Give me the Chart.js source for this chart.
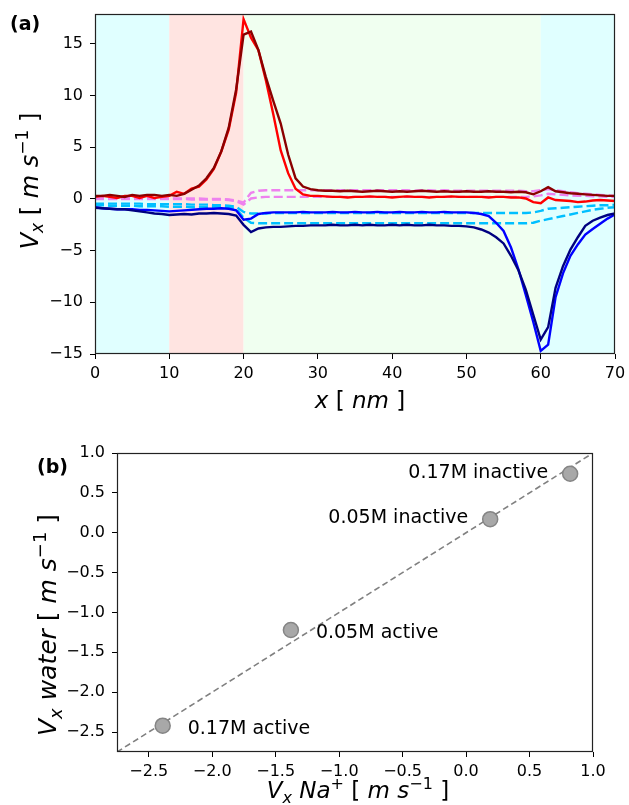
<!DOCTYPE html>
<html><head><meta charset="utf-8">
<script src="https://cdn.jsdelivr.net/npm/chart.js@4/dist/chart.umd.min.js"></script>
<style>
html,body{margin:0;padding:0;background:#fff;}
#wrap{position:relative;width:629px;height:805px;overflow:hidden;}
.box{position:absolute;left:0;width:629px;}
</style></head><body>
<div id="wrap">
<div class="box" style="top:0;height:420px"><canvas id="c1"></canvas></div>
<div class="box" style="top:420px;height:385px"><canvas id="c2"></canvas></div>
</div>
<script>
// ---------------- DATA (panel a) ----------------
const xNm = [0,1,2,3,4,5,6,7,8,9,10,11,12,13,14,15,16,17,18,19,20,21,22,23,24,25,26,27,28,29,30,31,32,33,34,35,36,37,38,39,40,41,42,43,44,45,46,47,48,49,50,51,52,53,54,55,56,57,58,59,60,61,62,63,64,65,66,67,68,69,70];
const seriesDarkRed = [0.3,0.3,0.4,0.3,0.2,0.4,0.3,0.4,0.4,0.3,0.4,
  0.3,0.5,0.9,1.3,2.0,3.0,4.6,6.9,10.6,15.9,
  16.2,14.4,11.8,9.5,7.3,4.3,2.0,1.2,0.95,0.85,
  0.8,0.8,0.75,0.8,0.75,0.7,0.75,0.8,0.75,0.7,
  0.75,0.7,0.75,0.8,0.75,0.7,0.75,0.7,0.7,0.75,
  0.7,0.7,0.75,0.7,0.7,0.65,0.7,0.65,0.45,0.75,
  1.15,0.75,0.65,0.55,0.5,0.45,0.4,0.35,0.3,0.3];
const seriesRed = [0.2,0.3,0.2,0.1,0.3,0.3,0.1,0.3,0.1,0.2,0.3,
  0.7,0.5,1.0,1.2,1.9,2.9,4.6,6.7,10.3,17.4,
  15.6,14.4,11.5,8.2,4.7,2.5,1.0,0.45,0.3,0.3,
  0.25,0.2,0.2,0.15,0.2,0.2,0.25,0.2,0.2,0.15,
  0.2,0.25,0.2,0.2,0.15,0.2,0.2,0.25,0.2,0.2,
  0.2,0.2,0.15,0.2,0.2,0.15,0.15,0.05,-0.3,-0.4,
  0.15,-0.1,-0.15,-0.2,-0.3,-0.25,-0.15,-0.1,-0.15,-0.2];
const seriesVioletHigh = [0.1,0.1,0.05,0.1,0.1,0.05,0.1,0.1,0.05,0.1,0.05,
  0.05,0.05,0.05,0.05,0.0,0.0,0.0,-0.05,-0.15,-0.35,
  0.6,0.8,0.85,0.85,0.85,0.85,0.85,0.85,0.85,0.85,
  0.85,0.85,0.85,0.85,0.85,0.85,0.85,0.85,0.85,0.85,
  0.85,0.85,0.8,0.85,0.85,0.8,0.85,0.8,0.8,0.8,
  0.8,0.8,0.8,0.8,0.8,0.8,0.8,0.75,0.75,0.85,
  0.95,0.85,0.75,0.65,0.55,0.5,0.45,0.4,0.35,0.3];
const seriesVioletLow = [0.0,0.0,0.0,0.0,0.0,0.0,0.0,0.0,0.0,0.0,0.0,
  0.0,0.0,-0.05,-0.05,-0.05,-0.05,-0.05,-0.1,-0.2,-0.55,
  0.05,0.15,0.2,0.2,0.2,0.2,0.2,0.2,0.2,0.2,
  0.2,0.2,0.2,0.2,0.2,0.2,0.2,0.2,0.2,0.2,
  0.2,0.2,0.2,0.2,0.2,0.2,0.2,0.2,0.2,0.2,
  0.2,0.2,0.2,0.2,0.2,0.2,0.2,0.2,0.25,0.35,
  0.5,0.45,0.4,0.35,0.3,0.3,0.25,0.25,0.2,0.2];
const seriesSkyHigh = [-0.45,-0.45,-0.45,-0.45,-0.45,-0.45,-0.45,-0.5,-0.5,-0.5,-0.5,
  -0.5,-0.5,-0.55,-0.55,-0.55,-0.6,-0.6,-0.65,-0.75,-1.25,
  -1.4,-1.4,-1.4,-1.35,-1.35,-1.35,-1.35,-1.35,-1.35,-1.35,
  -1.35,-1.35,-1.35,-1.35,-1.35,-1.35,-1.35,-1.35,-1.35,-1.35,
  -1.35,-1.35,-1.35,-1.35,-1.35,-1.35,-1.35,-1.35,-1.35,-1.35,
  -1.35,-1.35,-1.35,-1.35,-1.35,-1.35,-1.35,-1.35,-1.3,-1.15,
  -0.95,-0.9,-0.85,-0.8,-0.75,-0.7,-0.65,-0.6,-0.6,-0.55];
const seriesSkyLow = [-0.6,-0.6,-0.65,-0.65,-0.65,-0.65,-0.7,-0.7,-0.7,-0.7,-0.75,
  -0.75,-0.75,-0.8,-0.8,-0.8,-0.8,-0.8,-0.85,-0.95,-1.8,
  -2.3,-2.35,-2.35,-2.35,-2.35,-2.35,-2.35,-2.35,-2.35,-2.35,
  -2.35,-2.35,-2.35,-2.35,-2.35,-2.35,-2.35,-2.35,-2.35,-2.35,
  -2.35,-2.35,-2.35,-2.35,-2.35,-2.35,-2.35,-2.35,-2.35,-2.35,
  -2.35,-2.35,-2.35,-2.35,-2.35,-2.35,-2.35,-2.35,-2.3,-2.1,
  -1.95,-1.8,-1.65,-1.5,-1.35,-1.2,-1.05,-0.95,-0.85,-0.8];
const seriesBlue = [-0.8,-0.9,-0.95,-1.0,-1.0,-1.0,-1.05,-1.05,-1.1,-1.15,-1.2,
  -1.15,-1.1,-1.05,-1.0,-0.95,-0.95,-0.9,-0.95,-1.1,-2.0,
  -1.9,-1.45,-1.35,-1.3,-1.3,-1.3,-1.3,-1.25,-1.3,-1.3,
  -1.3,-1.25,-1.3,-1.3,-1.25,-1.3,-1.3,-1.25,-1.3,-1.3,
  -1.25,-1.3,-1.3,-1.25,-1.3,-1.3,-1.25,-1.3,-1.3,-1.3,
  -1.35,-1.45,-1.65,-2.3,-3.1,-4.7,-6.8,-9.3,-11.9,-14.7,
  -14.1,-9.5,-7.2,-5.5,-4.4,-3.45,-2.9,-2.4,-1.9,-1.5];
const seriesNavy = [-0.85,-0.9,-0.95,-1.0,-1.0,-1.1,-1.2,-1.3,-1.4,-1.45,-1.55,
  -1.5,-1.45,-1.5,-1.4,-1.4,-1.35,-1.4,-1.45,-1.6,-2.5,
  -3.2,-2.85,-2.75,-2.7,-2.7,-2.65,-2.6,-2.6,-2.55,-2.55,
  -2.55,-2.5,-2.55,-2.55,-2.5,-2.55,-2.5,-2.55,-2.55,-2.5,
  -2.55,-2.5,-2.55,-2.55,-2.5,-2.55,-2.55,-2.6,-2.6,-2.65,
  -2.75,-2.95,-3.25,-3.7,-4.3,-5.5,-6.9,-8.8,-11.2,-13.6,
  -12.4,-8.6,-6.5,-4.9,-3.7,-2.6,-2.1,-1.8,-1.55,-1.4];
const regionStart = [0,10,20,60];
const regionEnd = [10,20,60,70];
const xTicksA = [0,10,20,30,40,50,60,70];
const yTicksA = [-15,-10,-5,0,5,10,15];

// ---------------- DATA (panel b) ----------------
const pointLabels = ['0.17M inactive','0.05M inactive','0.05M active','0.17M active'];
const vxNa = [0.82,0.19,-1.38,-2.39];
const vxWater = [0.74,0.17,-1.22,-2.42];
const ticksB = [-2.5,-2.0,-1.5,-1.0,-0.5,0.0,0.5,1.0];

// ---------------- helpers ----------------
const FAM = '"DejaVu Sans", Verdana, sans-serif';
const regionColors = ['#e0ffff','#ffe4e1','#f0fff0','#e0ffff'];
function minus(s){ return String(s).replace('-', '\u2212'); }
function fontFor(p, size){
  const s = (p.sub||p.sup) ? Math.round(size*0.7) : size;
  return (p.i?'italic ':'') + (p.b?'bold ':'') + s + 'px ' + FAM;
}
function drawRich(ctx, parts, cx, cy, size, rotate){
  ctx.save();
  ctx.translate(cx, cy);
  if (rotate) ctx.rotate(-Math.PI/2);
  ctx.fillStyle = '#000';
  ctx.textBaseline = 'alphabetic';
  ctx.textAlign = 'left';
  const w = parts.map(p => { ctx.font = fontFor(p,size); return ctx.measureText(p.t).width; });
  const total = w.reduce((a,b)=>a+b,0);
  let x = -total/2;
  const base = size*0.36;
  parts.forEach((p,k) => {
    ctx.font = fontFor(p,size);
    const dy = p.sub ? size*0.22 : (p.sup ? -size*0.42 : 0);
    ctx.fillText(p.t, x, base + dy);
    x += w[k];
  });
  ctx.restore();
}
const unitParts = [{t:' [ '},{t:'m',i:true},{t:' '},{t:'s',i:true},{t:'\u22121',sup:true},{t:' ]'}];

const framePlugin = {
  id:'frame',
  beforeDatasetsDraw(chart, args, opts){
    const {ctx, chartArea:a} = chart;
    if (opts.regions){
      const xs = chart.scales.x;
      ctx.save();
      regionStart.forEach((s,k)=>{
        const x0 = xs.getPixelForValue(s), x1 = xs.getPixelForValue(regionEnd[k]);
        ctx.fillStyle = regionColors[k];
        ctx.fillRect(x0, a.top, x1-x0, a.bottom-a.top);
      });
      ctx.restore();
    }
  },
  afterDatasetsDraw(chart){
    const {ctx, chartArea:a} = chart;
    ctx.save();
    ctx.strokeStyle = '#222';
    ctx.lineWidth = 1.2;
    ctx.strokeRect(Math.round(a.left)+0.5, Math.round(a.top)+0.5, Math.round(a.right-a.left)-1, Math.round(a.bottom-a.top)-1);
    ctx.restore();
  }
};

function tickOpts(){
  return {color:'#000', font:{family:FAM, size:16}, padding:7, autoSkip:false, maxRotation:0,
          callback:(v)=>minus(v)};
}
function gridOpts(){
  return {drawOnChartArea:false, drawTicks:true, tickLength:5, color:'#000', lineWidth:1};
}
function fitX(h){ return (s)=>{ s.height = h; s.paddingLeft = 0; s.paddingRight = 0; }; }
function fitY(w){ return (s)=>{ s.width = w; s.paddingTop = 0; s.paddingBottom = 0; }; }

// ---------------- panel (a) ----------------
function lineDs(label, ys, color, dashed){
  return {label, data: xNm.map((x,k)=>({x, y: ys[k]})), borderColor: color, backgroundColor: color,
          borderWidth: 2.4, pointRadius: 0, tension: 0, fill: false, borderDash: dashed ? [9,4] : []};
}
const titleA = {
  id:'titlesA',
  afterDraw(chart){
    const ctx = chart.ctx;
    drawRich(ctx, [{t:'V',i:true},{t:'x',i:true,sub:true}].concat(unitParts), 29, 181, 24, true);
    drawRich(ctx, [{t:'x',i:true},{t:' [ '},{t:'nm',i:true},{t:' ]'}], 360, 400, 23, false);
    ctx.save(); ctx.fillStyle='#000'; ctx.font='bold 19px '+FAM; ctx.textBaseline='alphabetic';
    ctx.fillText('(a)', 10, 30); ctx.restore();
  }
};
new Chart(document.getElementById('c1'), {
  type:'line',
  data:{ datasets:[
    lineDs('navy', seriesNavy, '#000080', false),
    lineDs('blue', seriesBlue, '#0000ff', false),
    lineDs('darkred', seriesDarkRed, '#8b0000', false),
    lineDs('red', seriesRed, '#ff0000', false),
    lineDs('violet hi', seriesVioletHigh, '#ee82ee', true),
    lineDs('violet lo', seriesVioletLow, '#ee82ee', true),
    lineDs('sky hi', seriesSkyHigh, '#00bfff', true),
    lineDs('sky lo', seriesSkyLow, '#00bfff', true)
  ]},
  options:{
    responsive:true, maintainAspectRatio:false, animation:false,
    layout:{padding:{left:0, right:14, top:14, bottom:0}},
    plugins:{legend:{display:false}, tooltip:{enabled:false}, frame:{regions:true}},
    scales:{
      x:{type:'linear', min:0, max:70, border:{display:false}, grid:gridOpts(), ticks:Object.assign(tickOpts(),{padding:5}),
         afterBuildTicks:(s)=>{ s.ticks = xTicksA.map(v=>({value:v})); },
         afterFit:fitX(66)},
      y:{type:'linear', min:-15, max:17.9, border:{display:false}, grid:gridOpts(), ticks:tickOpts(),
         afterBuildTicks:(s)=>{ s.ticks = yTicksA.map(v=>({value:v})); },
         afterFit:fitY(95)}
    }
  },
  plugins:[framePlugin, titleA]
});

// ---------------- panel (b) ----------------
const axMin = -2.75, axMax = 1.0;
const labelsB = {
  id:'labelsB',
  afterDatasetsDraw(chart, args, opts){
    const {ctx} = chart; const xs = chart.scales.x, ys = chart.scales.y;
    ctx.save(); ctx.fillStyle='#000'; ctx.font='19px '+FAM; ctx.textBaseline='middle';
    pointLabels.forEach((t,k)=>{
      const px = xs.getPixelForValue(vxNa[k]), py = ys.getPixelForValue(vxWater[k]);
      if (opts.side[k] === 'left'){ ctx.textAlign='right'; ctx.fillText(t, px-22, py-1); }
      else { ctx.textAlign='left'; ctx.fillText(t, px+25, py+3); }
    });
    ctx.restore();
  },
  afterDraw(chart){
    const ctx = chart.ctx;
    drawRich(ctx, [{t:'V',i:true},{t:'x',i:true,sub:true},{t:' '},{t:'water',i:true}].concat(unitParts), 47, 205, 25, true);
    drawRich(ctx, [{t:'V',i:true},{t:'x',i:true,sub:true},{t:' '},{t:'Na',i:true},{t:'+',sup:true}].concat(unitParts), 358, 370, 23, false);
    ctx.save(); ctx.fillStyle='#000'; ctx.font='bold 19px '+FAM; ctx.textBaseline='middle';
    ctx.fillText('(b)', 37, 48); ctx.restore();
  }
};
new Chart(document.getElementById('c2'), {
  type:'scatter',
  data:{ datasets:[
    {label:'points', data: vxNa.map((v,k)=>({x:v, y:vxWater[k]})), pointRadius:7.5,
     backgroundColor:'#a8a8a8', borderColor:'#858585', borderWidth:1.5, showLine:false},
    {label:'y = x', data:[{x:axMin,y:axMin},{x:axMax,y:axMax}], showLine:true, pointRadius:0,
     borderColor:'#808080', borderWidth:1.6, borderDash:[6,3.5], fill:false}
  ]},
  options:{
    responsive:true, maintainAspectRatio:false, animation:false,
    layout:{padding:{left:0, right:36, top:33, bottom:0}},
    plugins:{legend:{display:false}, tooltip:{enabled:false}, frame:{regions:false},
             labelsB:{side:['left','left','right','right']}},
    scales:{
      x:{type:'linear', min:axMin, max:axMax, border:{display:false}, grid:gridOpts(),
         ticks:Object.assign(tickOpts(), {padding:5, callback:(v)=>minus(Number(v).toFixed(1))}),
         afterBuildTicks:(s)=>{ s.ticks = ticksB.map(v=>({value:v})); },
         afterFit:fitX(53)},
      y:{type:'linear', min:axMin, max:axMax, border:{display:false}, grid:gridOpts(),
         ticks:Object.assign(tickOpts(), {callback:(v)=>minus(Number(v).toFixed(1))}),
         afterBuildTicks:(s)=>{ s.ticks = ticksB.map(v=>({value:v})); },
         afterFit:fitY(117)}
    }
  },
  plugins:[framePlugin, labelsB]
});
</script>
</body></html>
